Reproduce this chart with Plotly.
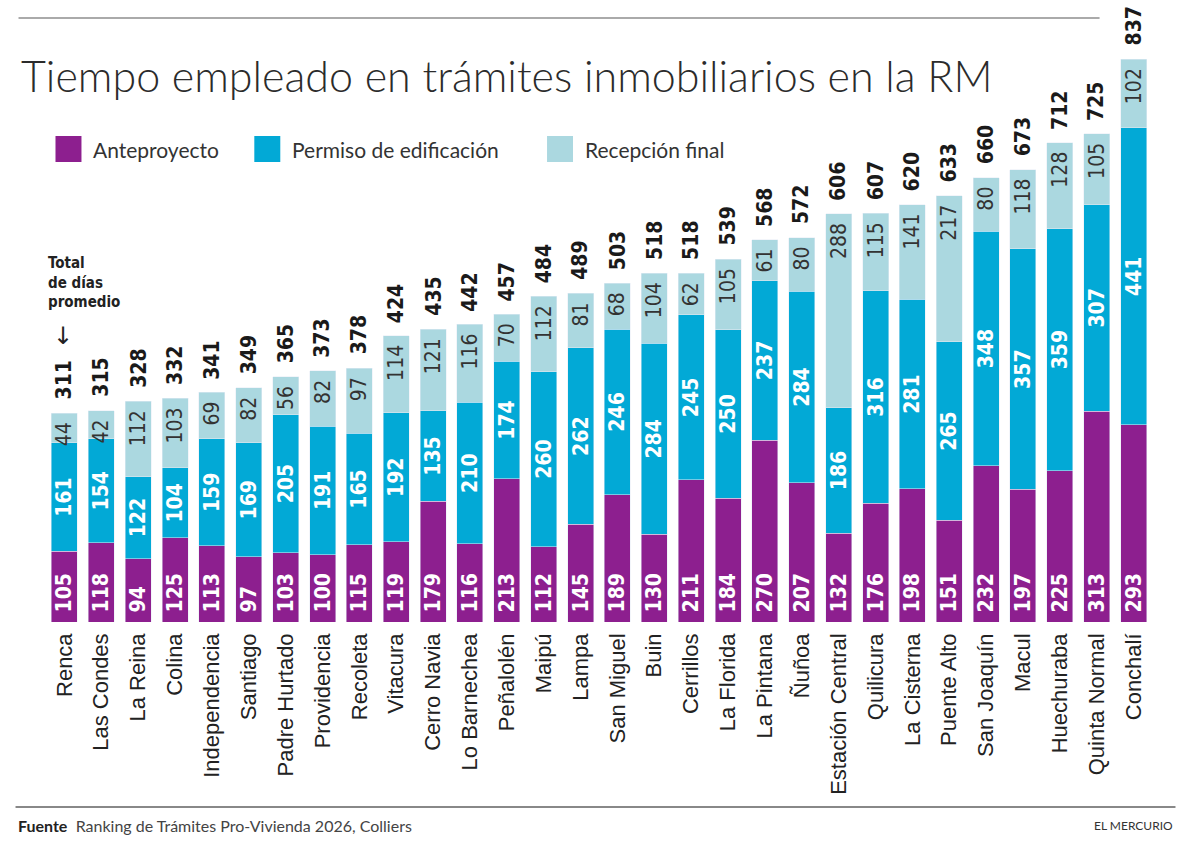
import plotly.graph_objects as go

comunas = ["Renca", "Las Condes", "La Reina", "Colina", "Independencia", "Santiago",
           "Padre Hurtado", "Providencia", "Recoleta", "Vitacura", "Cerro Navia",
           "Lo Barnechea", "Peñalolén", "Maipú", "Lampa", "San Miguel", "Buin",
           "Cerrillos", "La Florida", "La Pintana", "Ñuñoa", "Estación Central",
           "Quilicura", "La Cisterna", "Puente Alto", "San Joaquín", "Macul",
           "Huechuraba", "Quinta Normal", "Conchalí"]
anteproyecto = [105, 118, 94, 125, 113, 97, 103, 100, 115, 119, 179, 116, 213, 112, 145,
                189, 130, 211, 184, 270, 207, 132, 176, 198, 151, 232, 197, 225, 313, 293]
permiso = [161, 154, 122, 104, 159, 169, 205, 191, 165, 192, 135, 210, 174, 260, 262,
           246, 284, 245, 250, 237, 284, 186, 316, 281, 265, 348, 357, 359, 307, 441]
recepcion = [44, 42, 112, 103, 69, 82, 56, 82, 97, 114, 121, 116, 70, 112, 81,
             68, 104, 62, 105, 61, 80, 288, 115, 141, 217, 80, 118, 128, 105, 102]
totales = [311, 315, 328, 332, 341, 349, 365, 373, 378, 424, 435, 442, 457, 484, 489,
           503, 518, 518, 539, 568, 572, 606, 607, 620, 633, 660, 673, 712, 725, 837]

C_ANTE = "#8d1f8f"
C_PERM = "#02a9d6"
C_RECE = "#abd8e0"

W, H = 1186, 844
ML, MR, MT, MB = 45.5, 33.5, 16, 222
PW, PH = W - ML - MR, H - MT - MB
YMAX = 900


def px(x):
    return (x - ML) / PW


def py(y):
    return (H - MB - y) / PH


NUM = "Liberation Sans Narrow, DejaVu Sans Condensed, sans-serif"
NSIZE = 21
NB = "\u00a0"

fig = go.Figure()
fig.add_bar(x=comunas, y=anteproyecto, name="Anteproyecto", marker_color=C_ANTE,
            text=[NB + str(v) for v in anteproyecto], textposition="inside", textangle=-90,
            insidetextanchor="start", constraintext="none",
            insidetextfont=dict(family=NUM, size=NSIZE, color="white", weight="bold"))
fig.add_bar(x=comunas, y=permiso, name="Permiso de edificación", marker_color=C_PERM,
            text=permiso, textposition="inside", textangle=-90,
            insidetextanchor="middle", constraintext="none",
            insidetextfont=dict(family=NUM, size=NSIZE, color="white", weight="bold"))
fig.add_bar(x=comunas, y=recepcion, name="Recepción final", marker_color=C_RECE,
            text=[str(v) + NB for v in recepcion], textposition="inside", textangle=-90,
            insidetextanchor="end", constraintext="none",
            insidetextfont=dict(family=NUM, size=NSIZE, color="#333333"))

annotations = []
for c, t in zip(comunas, totales):
    annotations.append(dict(x=c, y=t, xref="x", yref="y", text=str(t), showarrow=False,
                            textangle=-90, yanchor="bottom", xanchor="center", yshift=11,
                            font=dict(family=NUM, size=NSIZE, color="#1a1a1a", weight="bold")))

# Title
annotations.append(dict(x=px(18), y=py(76), xref="paper", yref="paper", xanchor="left",
                        yanchor="middle", showarrow=False,
                        text="Tiempo empleado en trámites inmobiliarios en la RM",
                        font=dict(family="Lato", size=43, color="#2b2b2b", weight=300)))

# Legend
leg = [("Anteproyecto", C_ANTE, 55), ("Permiso de edificación", C_PERM, 254),
       ("Recepción final", C_RECE, 547)]
shapes = []
for name, col, x0 in leg:
    shapes.append(dict(type="rect", xref="paper", yref="paper", x0=px(x0), x1=px(x0 + 26),
                       y0=py(162), y1=py(136), fillcolor=col, line_width=0))
    annotations.append(dict(x=px(x0 + 36), y=py(149), xref="paper", yref="paper",
                            xanchor="left", yanchor="middle", showarrow=False, text=name,
                            font=dict(family="Lato", size=21, color="#333333")))

# Total de días promedio
annotations.append(dict(x=px(46), y=py(252), xref="paper", yref="paper", xanchor="left",
                        yanchor="top", showarrow=False, align="left",
                        text="<b>Total<br>de días<br>promedio</b>",
                        font=dict(family="DejaVu Sans Condensed, DejaVu Sans", size=15,
                                  color="#222222")))
annotations.append(dict(x=px(63), y=py(336), xref="paper", yref="paper", xanchor="center",
                        yanchor="middle", showarrow=False, text="↓",
                        font=dict(family="DejaVu Sans", size=24, color="#222222")))

# Lines
shapes.append(dict(type="line", xref="paper", yref="paper", x0=px(18), x1=px(1100),
                   y0=py(18), y1=py(18), line=dict(color="#aaaaaa", width=2)))
shapes.append(dict(type="line", xref="paper", yref="paper", x0=px(15), x1=px(1176),
                   y0=py(807), y1=py(807), line=dict(color="#888888", width=2)))

# Footer
annotations.append(dict(x=px(15), y=py(825), xref="paper", yref="paper", xanchor="left",
                        yanchor="middle", showarrow=False,
                        text="<b>Fuente</b>  <span style='color:#444'>Ranking de Trámites Pro-Vivienda 2026, Colliers</span>",
                        font=dict(family="Lato", size=16, color="#222222")))
annotations.append(dict(x=px(1176), y=py(825), xref="paper", yref="paper", xanchor="right",
                        yanchor="middle", showarrow=False, text="EL MERCURIO",
                        font=dict(family="Lato", size=12, color="#333333")))

fig.update_layout(
    width=W, height=H, barmode="stack", bargap=0.295,
    margin=dict(l=ML, r=MR, t=MT, b=MB, pad=0),
    paper_bgcolor="white", plot_bgcolor="white",
    showlegend=False, annotations=annotations, shapes=shapes,
    xaxis=dict(tickangle=-90, showgrid=False, showline=False, ticks="", zeroline=False,
               tickfont=dict(family="Liberation Sans, Arial", size=22, color="#222222"),
               ticklabelstandoff=6),
    yaxis=dict(range=[0, YMAX], visible=False, showgrid=False),
    hovermode=False,
)

fig.write_html("out.html")
